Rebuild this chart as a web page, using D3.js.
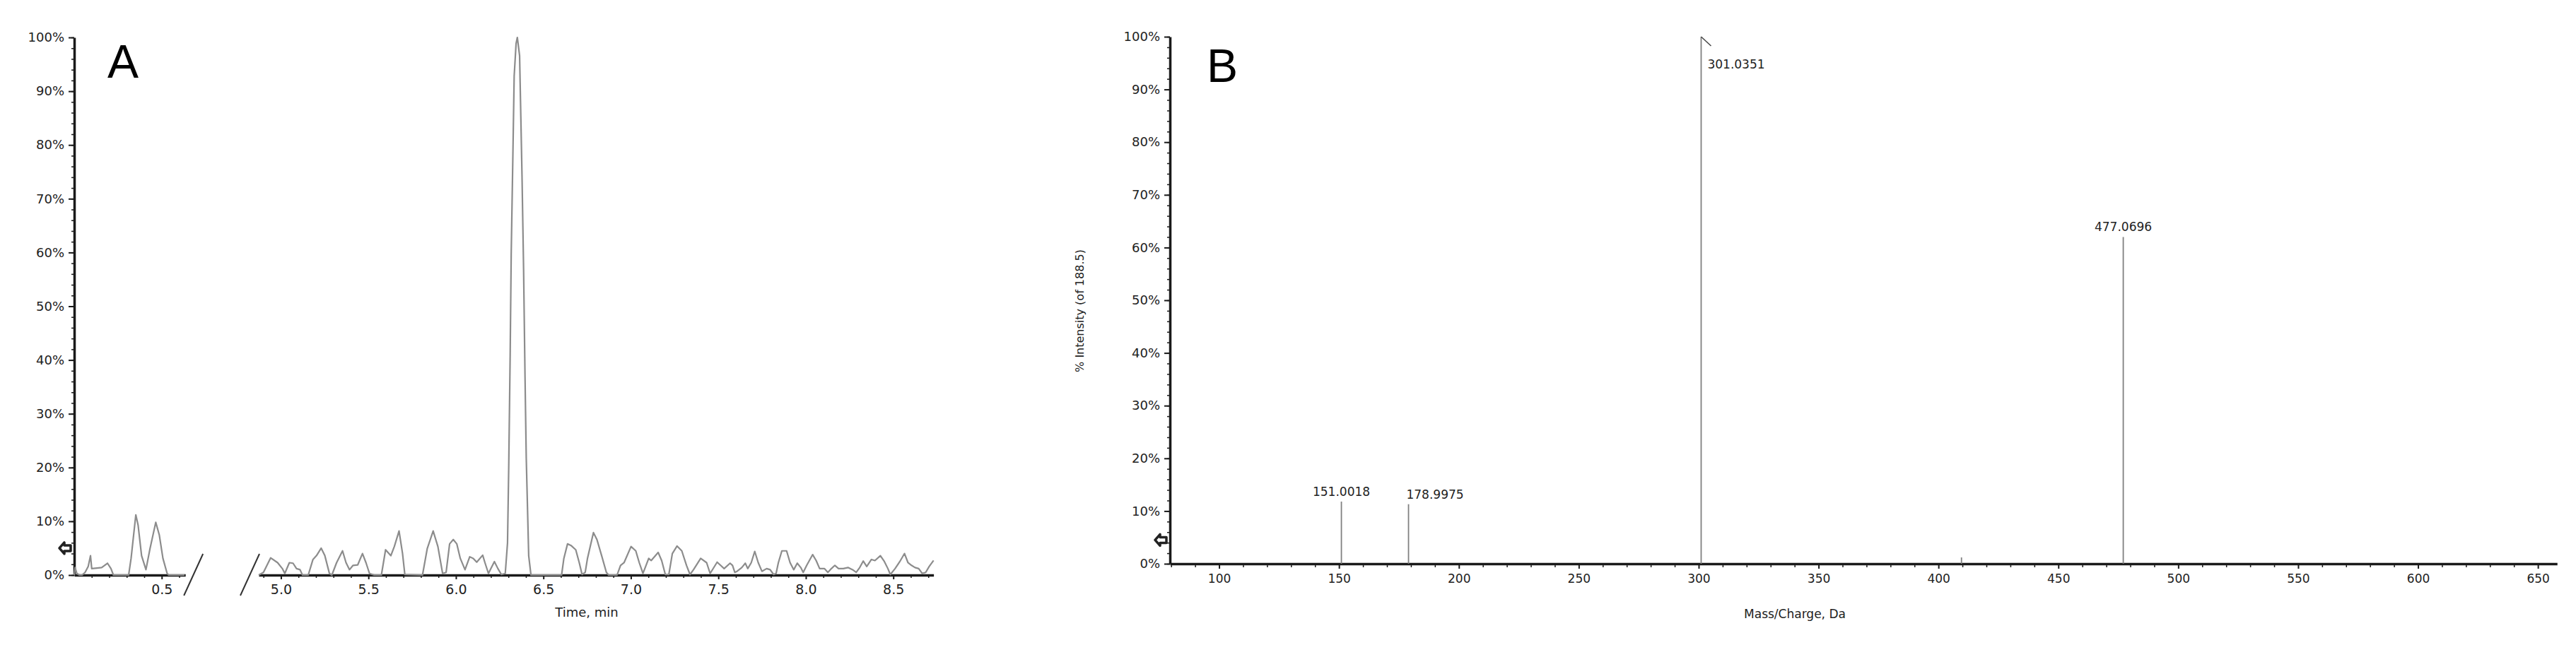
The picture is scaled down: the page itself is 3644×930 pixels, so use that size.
<!DOCTYPE html>
<html>
<head>
<meta charset="utf-8">
<script src="https://cdn.jsdelivr.net/npm/d3@7"></script>
<style>
  html, body { margin: 0; padding: 0; background: #fff; }
  svg { display: block; }
  .tick text { font-family: "DejaVu Sans", Verdana, sans-serif; fill: #222; }
</style>
</head>
<body>
<svg id="chart" width="3644" height="930"></svg>
<script>
// ---------------- DATA ----------------
// Panel A: extracted ion chromatogram (time in min, relative intensity in %)
const timeLeft = [0.000, 0.005, 0.015, 0.030, 0.045, 0.062, 0.080, 0.093, 0.100, 0.130, 0.157, 0.190, 0.210, 0.224,
  0.311, 0.325, 0.352, 0.365, 0.385, 0.410, 0.433, 0.466, 0.486, 0.507, 0.531, 0.540, 0.630];
const intensityLeft = [0.0, 1.4, 0.3, 0.0, 0.0, 0.5, 1.6, 3.6, 1.2, 1.3, 1.4, 2.2, 1.2, 0.0,
  0.0, 3.1, 11.2, 9.3, 3.6, 1.0, 4.9, 9.8, 7.5, 3.1, 0.3, 0.0, 0.0];

const timeRight = [4.873, 4.900, 4.941, 4.981, 5.008, 5.022, 5.048, 5.069, 5.089, 5.109, 5.123, 5.156, 5.183, 5.203,
  5.230, 5.251, 5.277, 5.291, 5.318, 5.352, 5.372, 5.392, 5.412, 5.439, 5.466, 5.486, 5.506, 5.533, 5.574, 5.598,
  5.628, 5.648, 5.675, 5.695, 5.708, 5.809, 5.836, 5.870, 5.897, 5.924, 5.944, 5.964, 5.985, 6.005, 6.025, 6.052,
  6.079, 6.099, 6.119, 6.153, 6.166, 6.186, 6.200, 6.220, 6.240, 6.260, 6.282, 6.295, 6.302, 6.310, 6.316, 6.325,
  6.333, 6.344, 6.351, 6.364, 6.371, 6.378, 6.387, 6.395, 6.402, 6.416, 6.429, 6.604, 6.617, 6.638, 6.658, 6.685,
  6.705, 6.721, 6.739, 6.752, 6.786, 6.806, 6.833, 6.860, 6.873, 6.921, 6.941, 6.961, 7.001, 7.028, 7.048, 7.069,
  7.082, 7.102, 7.116, 7.156, 7.176, 7.197, 7.217, 7.237, 7.264, 7.291, 7.318, 7.338, 7.358, 7.399, 7.433, 7.453,
  7.493, 7.513, 7.533, 7.567, 7.581, 7.594, 7.607, 7.634, 7.654, 7.668, 7.688, 7.708, 7.728, 7.749, 7.776, 7.796,
  7.816, 7.830, 7.843, 7.863, 7.890, 7.910, 7.931, 7.951, 7.971, 7.985, 8.005, 8.039, 8.059, 8.079, 8.106, 8.126,
  8.146, 8.166, 8.187, 8.214, 8.241, 8.267, 8.288, 8.308, 8.328, 8.348, 8.375, 8.395, 8.426, 8.449, 8.469, 8.483,
  8.510, 8.537, 8.564, 8.584, 8.604, 8.624, 8.645, 8.665, 8.685, 8.705, 8.730];
const intensityRight = [0.0, 0.5, 3.2, 2.3, 1.2, 0.3, 2.3, 2.2, 1.2, 1.0, 0.0, 0.0, 2.9, 3.6,
  5.0, 3.6, 0.3, 0.0, 2.3, 4.5, 2.3, 1.0, 1.8, 1.9, 4.0, 2.3, 0.3, 0.0, 0.0, 4.7,
  3.6, 5.3, 8.2, 4.0, 0.1, 0.0, 4.9, 8.2, 5.3, 0.3, 0.5, 5.8, 6.6, 5.8, 3.1, 1.0,
  3.4, 3.1, 2.4, 3.7, 2.3, 0.3, 1.2, 2.5, 1.2, 0.1, 0.3, 6.0, 20.3, 40.7, 59.6, 76.9,
  92.8, 98.9, 100.0, 96.6, 85.3, 73.9, 56.5, 36.9, 21.8, 3.6, 0.0, 0.0, 3.1, 5.8, 5.5, 4.7,
  2.3, 0.1, 0.5, 3.1, 7.9, 6.6, 3.6, 0.5, 0.0, 0.0, 1.8, 2.3, 5.3, 4.5, 2.3, 0.3,
  1.4, 3.1, 2.7, 4.2, 2.7, 0.1, 0.1, 4.0, 5.4, 4.5, 1.8, 0.1, 1.0, 3.1, 2.3, 0.3,
  2.4, 1.8, 1.2, 2.2, 1.8, 0.5, 0.7, 1.4, 2.2, 1.2, 2.3, 4.4, 2.3, 0.7, 1.2, 1.0,
  0.1, 0.3, 2.3, 4.5, 4.5, 2.3, 1.0, 2.2, 1.4, 0.5, 1.8, 3.8, 2.7, 1.2, 1.2, 0.5,
  1.2, 1.8, 1.2, 1.2, 1.4, 1.0, 0.5, 1.4, 2.6, 1.6, 2.9, 2.7, 3.6, 2.5, 1.2, 0.1,
  1.2, 2.5, 4.0, 2.3, 1.8, 1.4, 1.2, 0.3, 0.5, 1.6, 2.7];

// Panel B: MS/MS spectrum
const mzValues = [151.0018, 178.9975, 301.0351, 409.6, 477.0696];
const mzIntensity = [11.8, 11.3, 100, 1.2, 62];
const mzLabels = ["151.0018", "178.9975", "301.0351", "", "477.0696"];

// Tick labels
const yTicks = [0, 10, 20, 30, 40, 50, 60, 70, 80, 90, 100];
const timeTicksLeft = [0.5];
const timeTicksRight = [5.0, 5.5, 6.0, 6.5, 7.0, 7.5, 8.0, 8.5];
const mzTicks = [100, 150, 200, 250, 300, 350, 400, 450, 500, 550, 600, 650];

// ---------------- DRAW ----------------
const svg = d3.select("#chart");
svg.append("rect").attr("width", 3644).attr("height", 930).attr("fill", "#fff");

const FONT = '"DejaVu Sans", Verdana, sans-serif';
const AXIS_COLOR = "#1a1a1a";
const TRACE_COLOR = "#8c8c8c";

function styleAxis(g, fontSize) {
  g.select(".domain").attr("stroke", AXIS_COLOR).attr("stroke-width", 3.5);
  g.selectAll(".tick line").attr("stroke", AXIS_COLOR).attr("stroke-width", 2);
  g.selectAll(".tick text").attr("font-size", fontSize).attr("font-family", FONT);
}

// ===== Panel A =====
const yA = d3.scaleLinear().domain([0, 100]).range([814, 53]);
const xA1 = d3.scaleLinear().domain([0, 0.635]).range([105, 105 + 0.635 * 247.5]);
const xA2 = d3.scaleLinear().domain([4.873, 8.73]).range([366, 366 + (8.73 - 4.873) * 247.5]);

const gA = svg.append("g");

// y axis
const yAxA = gA.append("g").attr("transform", `translate(${xA1(0)},0)`)
  .call(d3.axisLeft(yA).tickValues(yTicks).tickFormat(d => d + "%").tickSize(8).tickSizeOuter(0).tickPadding(6));
styleAxis(yAxA, 18);
gA.append("g").attr("transform", `translate(${xA1(0)},0)`)
  .call(d3.axisLeft(yA).tickValues(d3.range(0, 101, 2)).tickFormat("").tickSize(4))
  .call(g => { g.select(".domain").remove(); g.selectAll("line").attr("stroke", AXIS_COLOR).attr("stroke-width", 1.5); });

// x axes (broken)
const xAx1 = gA.append("g").attr("transform", `translate(0,${yA(0)})`)
  .call(d3.axisBottom(xA1).tickValues(timeTicksLeft).tickFormat(d3.format(".1f")).tickSize(6).tickSizeOuter(0).tickPadding(8));
styleAxis(xAx1, 19);
gA.append("g").attr("transform", `translate(0,${yA(0)})`)
  .call(d3.axisBottom(xA1).tickValues([0.1, 0.2, 0.3, 0.4, 0.6]).tickFormat("").tickSize(4))
  .call(g => { g.select(".domain").remove(); g.selectAll("line").attr("stroke", AXIS_COLOR).attr("stroke-width", 1.5); });

const xAx2 = gA.append("g").attr("transform", `translate(0,${yA(0)})`)
  .call(d3.axisBottom(xA2).tickValues(timeTicksRight).tickFormat(d3.format(".1f")).tickSize(6).tickSizeOuter(0).tickPadding(8));
styleAxis(xAx2, 19);
gA.append("g").attr("transform", `translate(0,${yA(0)})`)
  .call(d3.axisBottom(xA2).tickValues(d3.range(4.9, 8.75, 0.1).filter(v => Math.abs(v * 2 - Math.round(v * 2)) > 0.01)).tickFormat("").tickSize(4))
  .call(g => { g.select(".domain").remove(); g.selectAll("line").attr("stroke", AXIS_COLOR).attr("stroke-width", 1.5); });

// break slashes
const slashes = [[xA1.range()[1] - 2, xA1.range()[1] + 25], [xA2.range()[0] - 26, xA2.range()[0] + 1]];
slashes.forEach(([x0, x1]) => {
  gA.append("line").attr("x1", x0).attr("y1", yA(0) + 29).attr("x2", x1).attr("y2", yA(0) - 30)
    .attr("stroke", "#333").attr("stroke-width", 2);
});

// traces
const lineA1 = d3.line().x((d, i) => xA1(timeLeft[i])).y((d, i) => yA(intensityLeft[i]));
const lineA2 = d3.line().x((d, i) => xA2(timeRight[i])).y((d, i) => yA(intensityRight[i]));
gA.append("path").attr("d", lineA1(timeLeft)).attr("fill", "none").attr("stroke", TRACE_COLOR).attr("stroke-width", 2.2).attr("stroke-linejoin", "round");
gA.append("path").attr("d", lineA2(timeRight)).attr("fill", "none").attr("stroke", TRACE_COLOR).attr("stroke-width", 2.2).attr("stroke-linejoin", "round");

// threshold marker
function marker(g, x, y) {
  g.append("path").attr("transform", `translate(${x},${y})`)
    .attr("d", "M-9,0 L-2,-8 L-2,-4 L7,-4 L7,4 L-2,4 L-2,8 Z")
    .attr("fill", "#fff").attr("stroke", "#222").attr("stroke-width", 3.5).attr("stroke-linejoin", "round");
}
marker(gA, xA1(0) - 12, yA(5));

// labels
gA.append("text").attr("x", 830).attr("y", 873).attr("text-anchor", "middle")
  .attr("font-family", FONT).attr("font-size", 18).attr("fill", "#222").text("Time, min");
gA.append("text").attr("x", 152).attr("y", 110)
  .attr("font-family", '"Liberation Sans", Arial, sans-serif').attr("font-size", 66).attr("fill", "#000").text("A");

// ===== Panel B =====
const yB = d3.scaleLinear().domain([0, 100]).range([798, 52]);
const xB = d3.scaleLinear().domain([79.5, 658]).range([1655, 1655 + (658 - 79.5) * 3.392]);
const gB = svg.append("g");

const yAxB = gB.append("g").attr("transform", `translate(${xB(79.5)},0)`)
  .call(d3.axisLeft(yB).tickValues(yTicks).tickFormat(d => d + "%").tickSize(8).tickSizeOuter(0).tickPadding(6));
styleAxis(yAxB, 18);
gB.append("g").attr("transform", `translate(${xB(79.5)},0)`)
  .call(d3.axisLeft(yB).tickValues(d3.range(0, 101, 2)).tickFormat("").tickSize(4))
  .call(g => { g.select(".domain").remove(); g.selectAll("line").attr("stroke", AXIS_COLOR).attr("stroke-width", 1.5); });

const xAxB = gB.append("g").attr("transform", `translate(0,${yB(0)})`)
  .call(d3.axisBottom(xB).tickValues(mzTicks).tickSize(7).tickSizeOuter(0).tickPadding(8));
styleAxis(xAxB, 17);
gB.append("g").attr("transform", `translate(0,${yB(0)})`)
  .call(d3.axisBottom(xB).tickValues(d3.range(80, 658, 10).filter(v => v % 50 !== 0)).tickFormat("").tickSize(5))
  .call(g => { g.select(".domain").remove(); g.selectAll("line").attr("stroke", AXIS_COLOR).attr("stroke-width", 1.5); });

// peaks
gB.selectAll("line.peak").data(mzValues).enter().append("line").attr("class", "peak")
  .attr("x1", d => xB(d)).attr("x2", d => xB(d))
  .attr("y1", yB(0)).attr("y2", (d, i) => yB(mzIntensity[i]))
  .attr("stroke", "#808080").attr("stroke-width", 1.8);

// peak labels
mzValues.forEach((m, i) => {
  if (!mzLabels[i]) return;
  const px = xB(m), py = yB(mzIntensity[i]);
  const t = gB.append("text").attr("font-family", FONT).attr("font-size", 17).attr("fill", "#222").text(mzLabels[i]);
  if (mzIntensity[i] >= 99) {
    gB.append("line").attr("x1", px).attr("y1", py).attr("x2", px + 14).attr("y2", py + 13)
      .attr("stroke", "#444").attr("stroke-width", 1.5);
    t.attr("x", px + 9).attr("y", py + 45).attr("text-anchor", "start");
  } else if (i === 1) {
    t.attr("x", px - 3).attr("y", py - 8).attr("text-anchor", "start");
  } else {
    t.attr("x", px).attr("y", py - 8).attr("text-anchor", "middle");
  }
});

marker(gB, xB(79.5) - 12, yB(4.5));

gB.append("text").attr("x", 2539).attr("y", 875).attr("text-anchor", "middle")
  .attr("font-family", FONT).attr("font-size", 17).attr("fill", "#222").text("Mass/Charge, Da");
gB.append("text").attr("transform", "translate(1533,440) rotate(-90)").attr("text-anchor", "middle")
  .attr("font-family", FONT).attr("font-size", 16).attr("fill", "#222").text("% Intensity (of 188.5)");
gB.append("text").attr("x", 1707).attr("y", 116)
  .attr("font-family", '"Liberation Sans", Arial, sans-serif').attr("font-size", 66).attr("fill", "#000").text("B");
</script>
</body>
</html>
